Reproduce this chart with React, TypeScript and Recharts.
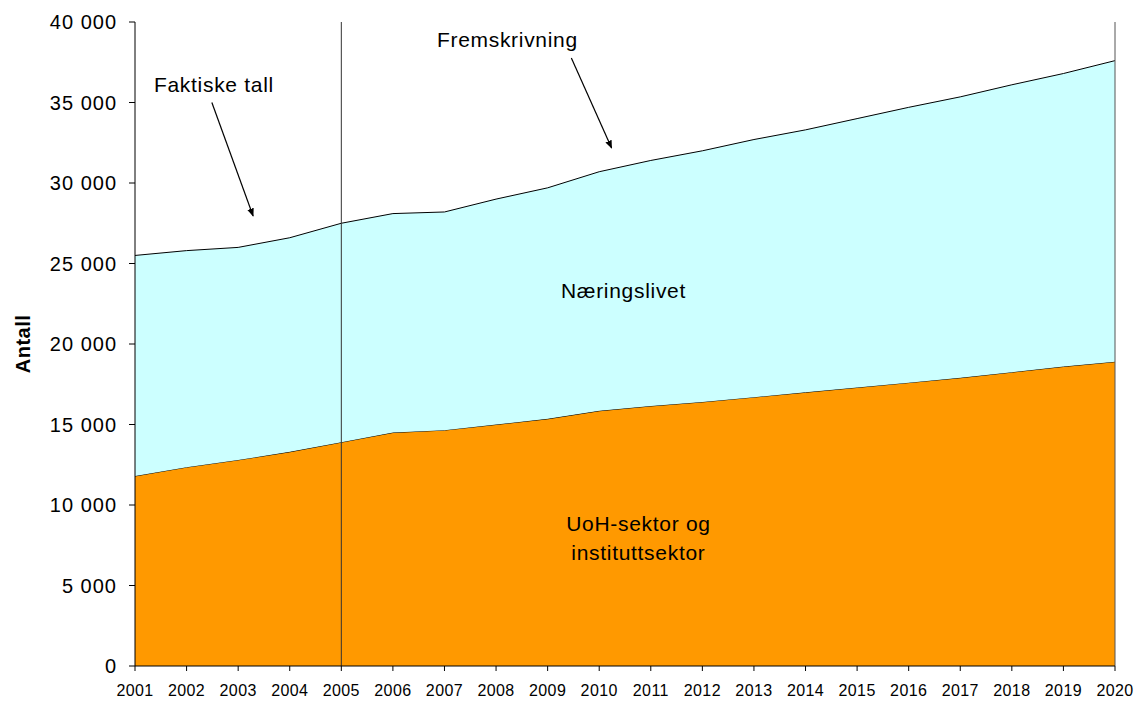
import React from 'react';
import { AreaChart, Area, XAxis, YAxis, ReferenceLine, ReferenceDot } from 'recharts';

const years = [2001, 2002, 2003, 2004, 2005, 2006, 2007, 2008, 2009, 2010, 2011, 2012, 2013, 2014, 2015, 2016, 2017, 2018, 2019, 2020];
// UoH-sektor og instituttsektor
const uohValues = [11800, 12350, 12800, 13300, 13900, 14500, 14650, 15000, 15350, 15850, 16150, 16400, 16700, 17000, 17300, 17600, 17900, 18250, 18600, 18900];
// total (top line)
const totalValues = [25500, 25800, 26000, 26600, 27500, 28100, 28200, 29000, 29700, 30700, 31400, 32000, 32700, 33300, 34000, 34700, 35350, 36100, 36800, 37600];
const yTicks = [0, 5000, 10000, 15000, 20000, 25000, 30000, 35000, 40000];

const data = years.map((year, i) => ({
  year,
  uoh: uohValues[i],
  naering: totalValues[i] - uohValues[i],
}));

const fmt = (v: number) => String(v).replace(/\B(?=(\d{3})+(?!\d))/g, ' ');

const FONT = '"Liberation Sans", Arial, sans-serif';
const textStyle = { fill: '#000', fontSize: 21, fontFamily: FONT, letterSpacing: 0.7 };

const AxisTitle = (props: any) => {
  const vb = props.viewBox;
  const x = vb.x + 22;
  const y = vb.y + vb.height / 2;
  return (
    <text x={x} y={y} transform={`rotate(-90, ${x}, ${y})`} textAnchor="middle" dominantBaseline="central"
      style={{ fontSize: 20, fontWeight: 'bold', fontFamily: FONT, fill: '#000', letterSpacing: 0.5 }}>
      Antall
    </text>
  );
};

const App: React.FC = () => {
  return (
    <div style={{ position: 'absolute', left: 0, top: 0, fontFamily: FONT }}>
      <AreaChart width={1136} height={701} data={data} margin={{ top: 22, right: 21, left: 1, bottom: 5 }}>
        <defs>
          <marker id="arrowHead" viewBox="0 0 10 10" refX="9" refY="5" markerWidth="7" markerHeight="7" orient="auto-start-reverse">
            <path d="M0,1 L10,5 L0,9 z" fill="#000" />
          </marker>
        </defs>
        <XAxis
          type="number"
          dataKey="year"
          domain={[2001, 2020]}
          ticks={years}
          interval={0}
          tickSize={5}
          tickMargin={14}
          stroke="#000"
          tick={{ fill: '#000', fontSize: 16, fontFamily: FONT, letterSpacing: 0.4 }}
          height={30}
        />
        <YAxis
          domain={[0, 40000]}
          ticks={yTicks}
          tickFormatter={fmt}
          width={134}
          tickSize={6}
          tickMargin={12}
          stroke="#000"
          tick={{ fill: '#000', fontSize: 20, fontFamily: FONT, letterSpacing: 1 }}
          label={<AxisTitle />}
        />
        <Area type="linear" dataKey="uoh" stackId="1" fill="#FF9900" fillOpacity={1} stroke="#000" strokeWidth={1} isAnimationActive={false} />
        <Area type="linear" dataKey="naering" stackId="1" fill="#CCFFFF" fillOpacity={1} stroke="#000" strokeWidth={1} isAnimationActive={false} />
        <ReferenceLine x={2005} stroke="#333" strokeWidth={1} />
        <ReferenceLine x={2020} stroke="#555" strokeWidth={1} />
        <ReferenceLine segment={[{ x: 2002.49, y: 35000 }, { x: 2003.29, y: 27950 }]} stroke="#000" strokeWidth={1.2} markerEnd="url(#arrowHead)" />
        <ReferenceLine segment={[{ x: 2009.46, y: 37760 }, { x: 2010.24, y: 32170 }]} stroke="#000" strokeWidth={1.2} markerEnd="url(#arrowHead)" />
        <ReferenceDot x={2002.53} y={36100} r={0} stroke="none" label={{ value: 'Faktiske tall', position: 'center', style: textStyle }} />
        <ReferenceDot x={2008.22} y={38880} r={0} stroke="none" label={{ value: 'Fremskrivning', position: 'center', style: textStyle }} />
        <ReferenceDot x={2010.47} y={23350} r={0} stroke="none" label={{ value: 'Næringslivet', position: 'center', style: textStyle }} />
        <ReferenceDot x={2010.76} y={8820} r={0} stroke="none" label={{ value: 'UoH-sektor og', position: 'center', style: textStyle }} />
        <ReferenceDot x={2010.76} y={7020} r={0} stroke="none" label={{ value: 'instituttsektor', position: 'center', style: textStyle }} />
      </AreaChart>
    </div>
  );
};

export default App;
